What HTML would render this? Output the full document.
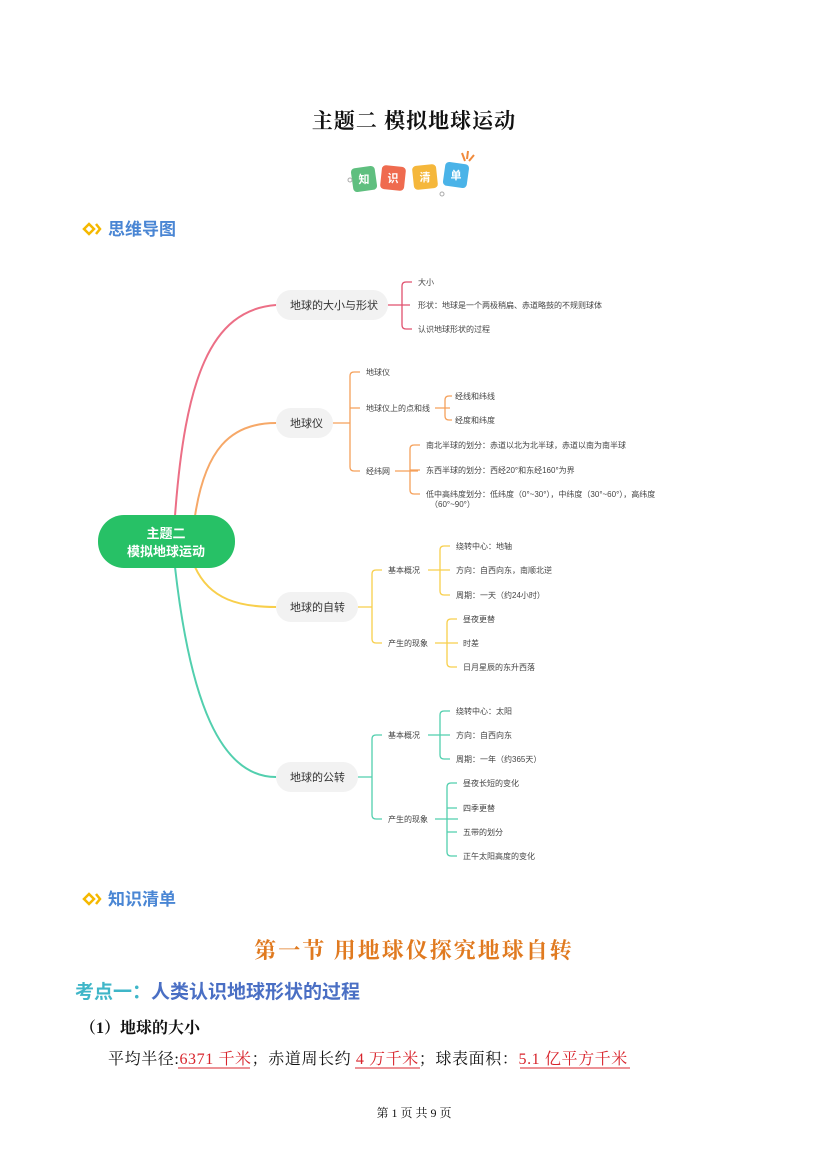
<!DOCTYPE html>
<html><head><meta charset="utf-8"><style>
html,body{margin:0;padding:0;background:#fff}
svg{display:block}
text{font-family:"Liberation Sans","Noto Sans CJK SC",sans-serif}
.s{font-size:8px;fill:#444}
.n{font-size:11px;fill:#333}
</style></head><body>
<svg width="827" height="1169" viewBox="0 0 827 1169" xmlns="http://www.w3.org/2000/svg">
<text x="414" y="128" text-anchor="middle" style="font-family:'Liberation Serif','Noto Serif CJK SC',serif;font-size:21px;font-weight:bold;fill:#111;letter-spacing:1px">主题二  模拟地球运动</text>
<!-- badge -->
<g font-size="11" font-weight="bold" fill="#fff" text-anchor="middle">
<rect x="352" y="167" width="24" height="24" rx="4" fill="#5fbf7f" transform="rotate(-8 364 179)"/><text x="364" y="183">知</text>
<rect x="381" y="166" width="24" height="24" rx="4" fill="#ef6b4f" transform="rotate(6 393 178)"/><text x="393" y="182">识</text>
<rect x="413" y="165" width="24" height="24" rx="4" fill="#f5b73b" transform="rotate(-6 425 177)"/><text x="425" y="181">清</text>
<rect x="444" y="163" width="24" height="24" rx="4" fill="#4ab3e8" transform="rotate(8 456 175)"/><text x="456" y="179">单</text>
</g>
<path d="M462 153 l3 8 M468 151 l-1 8 M474 155 l-5 6" stroke="#f08a3c" stroke-width="2"/>
<circle cx="350" cy="180" r="2" fill="none" stroke="#aaa"/><circle cx="442" cy="194" r="2" fill="none" stroke="#aaa"/>
<!-- headers -->
<g>
<path d="M84 229 l5 -5 l5 5 l-5 5z" fill="none" stroke="#f5b800" stroke-width="2.5"/><path d="M96 224 l4 5 l-4 5" fill="none" stroke="#f5b800" stroke-width="2.5"/>
<text x="108" y="235" style="font-size:17px;font-weight:bold;fill:#4a86d4">思维导图</text>
<path d="M84 899 l5 -5 l5 5 l-5 5z" fill="none" stroke="#f5b800" stroke-width="2.5"/><path d="M96 894 l4 5 l-4 5" fill="none" stroke="#f5b800" stroke-width="2.5"/>
<text x="108" y="905" style="font-size:17px;font-weight:bold;fill:#4a86d4">知识清单</text>
</g>
<!-- curves -->
<g fill="none" stroke-width="2">
<path d="M175 516 C 185 380, 210 310, 276 305" stroke="#ec6f86"/>
<path d="M195 516 C 205 450, 230 423, 276 423" stroke="#f6a868"/>
<path d="M195 567 C 210 600, 240 607, 276 607" stroke="#f8cf4c"/>
<path d="M175 567 C 190 700, 220 777, 276 777" stroke="#52cfae"/>
</g>
<rect x="98" y="515" width="137" height="53" rx="26" fill="#27c166"/>
<text x="166" y="538" text-anchor="middle" style="font-size:13px;font-weight:bold;fill:#fff">主题二</text>
<text x="166" y="556" text-anchor="middle" style="font-size:13px;font-weight:bold;fill:#fff">模拟地球运动</text>
<!-- nodes -->
<g fill="#f2f2f2"><rect x="276" y="290" width="112" height="30" rx="15"/><rect x="276" y="408" width="57" height="30" rx="15"/><rect x="276" y="592" width="82" height="30" rx="15"/><rect x="276" y="762" width="82" height="30" rx="15"/></g>
<text class="n" x="290" y="309">地球的大小与形状</text>
<text class="n" x="290" y="427">地球仪</text>
<text class="n" x="290" y="611">地球的自转</text>
<text class="n" x="290" y="781">地球的公转</text>
<!-- branch 1 -->
<g fill="none" stroke="#e0506e" stroke-width="1.3">
<path d="M388 305 H410 M402 305 V286 q0 -4 4 -4 H412 M402 305 V325 q0 4 4 4 H412"/>
</g>
<text class="s" x="418" y="285">大小</text>
<text class="s" x="418" y="308">形状：地球是一个两极稍扁、赤道略鼓的不规则球体</text>
<text class="s" x="418" y="332">认识地球形状的过程</text>
<!-- branch 2 -->
<g fill="none" stroke="#f5a05a" stroke-width="1.3">
<path d="M333 423 H350 M350 376 q0 -4 4 -4 H360 M350 376 V467 q0 4 4 4 H360 M350 408 H360"/>
<path d="M435 408 H450 M445 400 q0 -4 4 -4 H452 M445 400 V416 q0 4 4 4 H452"/>
<path d="M395 471 H418 M410 449 q0 -4 4 -4 H420 M410 449 V490 q0 4 4 4 H420 M410 470 H420"/>
</g>
<text class="s" x="366" y="375">地球仪</text>
<text class="s" x="366" y="411">地球仪上的点和线</text>
<text class="s" x="455" y="399">经线和纬线</text>
<text class="s" x="455" y="423">经度和纬度</text>
<text class="s" x="366" y="474">经纬网</text>
<text class="s" x="426" y="448">南北半球的划分：赤道以北为北半球，赤道以南为南半球</text>
<text class="s" x="426" y="473">东西半球的划分：西经20°和东经160°为界</text>
<text class="s" x="426" y="497">低中高纬度划分：低纬度（0°~30°），中纬度（30°~60°），高纬度</text>
<text class="s" x="430" y="507">（60°~90°）</text>
<!-- branch 3 -->
<g fill="none" stroke="#f8cf4c" stroke-width="1.3">
<path d="M358 607 H372 M372 574 q0 -4 4 -4 H382 M372 574 V639 q0 4 4 4 H382"/>
<path d="M428 570 H450 M440 550 q0 -4 4 -4 H450 M440 550 V591 q0 4 4 4 H450"/>
<path d="M435 643 H458 M447 623 q0 -4 4 -4 H457 M447 623 V663 q0 4 4 4 H457"/>
</g>
<text class="s" x="388" y="573">基本概况</text>
<text class="s" x="388" y="646">产生的现象</text>
<text class="s" x="456" y="549">绕转中心：地轴</text>
<text class="s" x="456" y="573">方向：自西向东，南顺北逆</text>
<text class="s" x="456" y="598">周期：一天（约24小时）</text>
<text class="s" x="463" y="622">昼夜更替</text>
<text class="s" x="463" y="646">时差</text>
<text class="s" x="463" y="670">日月星辰的东升西落</text>
<!-- branch 4 -->
<g fill="none" stroke="#52cfae" stroke-width="1.3">
<path d="M358 777 H372 M372 739 q0 -4 4 -4 H382 M372 739 V815 q0 4 4 4 H382"/>
<path d="M428 735 H450 M440 715 q0 -4 4 -4 H450 M440 715 V755 q0 4 4 4 H450"/>
<path d="M435 819 H458 M447 787 q0 -4 4 -4 H457 M447 787 V852 q0 4 4 4 H457 M447 808 H457 M447 832 H457"/>
</g>
<text class="s" x="388" y="738">基本概况</text>
<text class="s" x="388" y="822">产生的现象</text>
<text class="s" x="456" y="714">绕转中心：太阳</text>
<text class="s" x="456" y="738">方向：自西向东</text>
<text class="s" x="456" y="762">周期：一年（约365天）</text>
<text class="s" x="463" y="786">昼夜长短的变化</text>
<text class="s" x="463" y="811">四季更替</text>
<text class="s" x="463" y="835">五带的划分</text>
<text class="s" x="463" y="859">正午太阳高度的变化</text>
<!-- lower text -->
<text x="414" y="958" text-anchor="middle" style="font-family:'Liberation Serif','Noto Serif CJK SC',serif;font-size:22px;font-weight:bold;fill:#e07a20;letter-spacing:2px">第一节  用地球仪探究地球自转</text>
<text x="75" y="998" style="font-size:19px;font-weight:bold;fill:#3fb6c8">考点一：<tspan fill="#4a6fc4">人类认识地球形状的过程</tspan></text>
<text x="80" y="1033" style="font-family:'Liberation Serif','Noto Serif CJK SC',serif;font-size:16px;font-weight:bold;fill:#111">（1）地球的大小</text>
<text x="108" y="1064" style="font-family:'Liberation Serif','Noto Serif CJK SC',serif;font-size:16px;fill:#111;letter-spacing:0.6px">平均半径:<tspan fill="#d8242c">6371 千米</tspan>；赤道周长约 <tspan fill="#d8242c">4 万千米</tspan>；球表面积：<tspan fill="#d8242c">5.1 亿平方千米</tspan></text>
<g stroke="#d8242c" stroke-width="1"><line x1="178" y1="1068" x2="250" y2="1068"/><line x1="355" y1="1068" x2="420" y2="1068"/><line x1="520" y1="1068" x2="630" y2="1068"/></g>
<text x="414" y="1117" text-anchor="middle" style="font-family:'Liberation Serif','Noto Serif CJK SC',serif;font-size:12px;fill:#111">第 1 页 共 9 页</text>
</svg>
</body></html>
